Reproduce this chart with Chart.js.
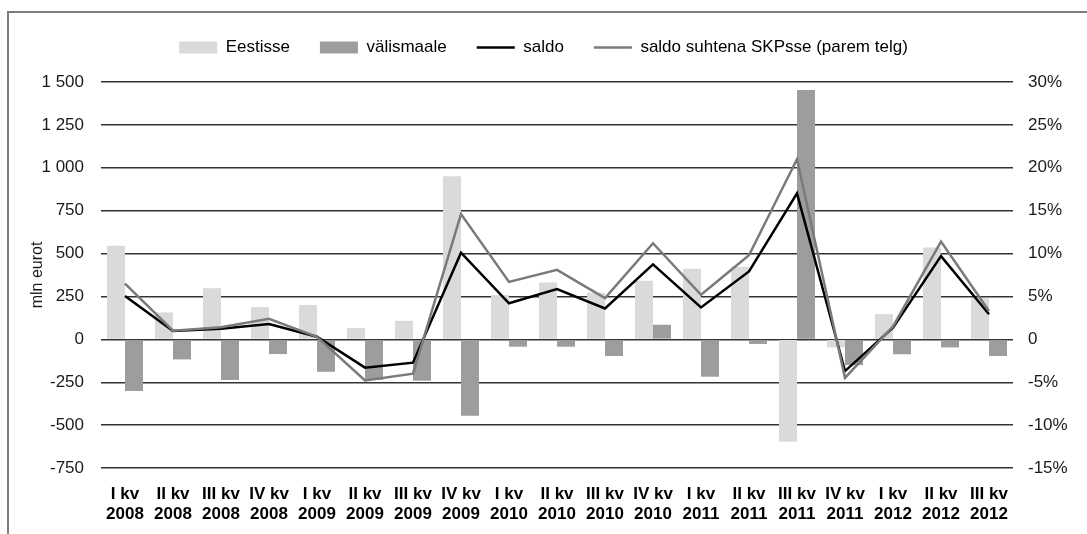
<!DOCTYPE html>
<html>
<head>
<meta charset="utf-8">
<script src="https://cdn.jsdelivr.net/npm/chart.js@4"></script>
<style>
  body { margin: 0; background: #fff; overflow: hidden; }
  #wrap { position: relative; width: 1087px; height: 534px; }
  #frame { position: absolute; left: 7px; top: 11px; width: 1200px; height: 600px;
           border-left: 2px solid #7d7d7d; border-top: 2px solid #7d7d7d; }
</style>
</head>
<body>
<div id="wrap">
  <div id="frame"></div>
  <canvas id="myChart"></canvas>
</div>
<script>
var labels = [
  ['I kv', '2008'], ['II kv', '2008'], ['III kv', '2008'], ['IV kv', '2008'],
  ['I kv', '2009'], ['II kv', '2009'], ['III kv', '2009'], ['IV kv', '2009'],
  ['I kv', '2010'], ['II kv', '2010'], ['III kv', '2010'], ['IV kv', '2010'],
  ['I kv', '2011'], ['II kv', '2011'], ['III kv', '2011'], ['IV kv', '2011'],
  ['I kv', '2012'], ['II kv', '2012'], ['III kv', '2012']
];
// mln eurot
var eestisse   = [545, 157, 298, 188, 200, 66, 108, 951, 258, 332, 272, 342, 411, 423, -597, -47, 147, 536, 239];
var valismaale = [-301, -117, -237, -86, -189, -237, -241, -445, -43, -43, -97, 85, -218, -27, 1453, -150, -87, -47, -97];
var saldo      = [252, 48, 62, 89, 15, -165, -136, 505, 210, 293, 180, 437, 186, 396, 851, -185, 68, 485, 146];
// % SKPst (parem telg)
var saldoSkp   = [6.5, 1.0, 1.4, 2.4, 0.3, -4.8, -4.0, 14.6, 6.7, 8.1, 4.8, 11.2, 5.2, 9.8, 21.0, -4.5, 1.5, 11.4, 3.3];

var chart;

function formatMln(v) {
  var s = Math.abs(v).toString();
  if (s.length > 3) s = s.slice(0, s.length - 3) + ' ' + s.slice(-3);
  return (v < 0 ? '-' : '') + s;
}

function showChart() {
  var fontFamily = '"Liberation Sans", Arial, Helvetica, sans-serif';
  Chart.defaults.font.family = fontFamily;
  Chart.defaults.color = '#1a1a1a';

  const data = {
    labels: labels,
    datasets: [
      { type: 'bar', label: 'Eestisse', data: eestisse, yAxisID: 'y',
        backgroundColor: '#d9dadb', order: 2 },
      { type: 'bar', label: 'välismaale', data: valismaale, yAxisID: 'y',
        backgroundColor: '#9d9d9f', order: 3 },
      { type: 'line', label: 'saldo', data: saldo, yAxisID: 'y',
        borderColor: '#000000', backgroundColor: '#000000', borderWidth: 2.5,
        pointRadius: 0, tension: 0, order: 1 },
      { type: 'line', label: 'saldo suhtena SKPsse (parem telg)', data: saldoSkp, yAxisID: 'y1',
        borderColor: '#7a7a7a', backgroundColor: '#7a7a7a', borderWidth: 2.5,
        pointRadius: 0, tension: 0, order: 0 }
    ]
  };

  const options = {
    responsive: true,
    maintainAspectRatio: false,
    animation: false,
    layout: { padding: { top: 9, left: 0, right: 0, bottom: 0 } },
    datasets: { bar: { categoryPercentage: 0.75, barPercentage: 1.0 } },
    plugins: {
      tooltip: { enabled: false },
      legend: {
        display: true,
        position: 'top',
        labels: {
          font: { size: 17 },
          color: '#1a1a1a',
          padding: 30,
          usePointStyle: true,
          pointStyleWidth: 38,
          boxHeight: 12,
          generateLabels: function (ch) {
            return ch.data.datasets.map(function (ds, i) {
              var isLine = ds.type === 'line';
              return {
                text: ds.label,
                datasetIndex: i,
                pointStyle: isLine ? 'line' : 'rect',
                fillStyle: isLine ? ds.borderColor : ds.backgroundColor,
                strokeStyle: isLine ? ds.borderColor : ds.backgroundColor,
                lineWidth: isLine ? 2.5 : 0,
                hidden: false
              };
            });
          }
        }
      }
    },
    scales: {
      x: {
        grid: { display: false },
        border: { display: false },
        ticks: {
          color: '#000',
          font: { size: 17, weight: 'bold' },
          maxRotation: 0,
          autoSkip: false,
          padding: 8
        },
        afterFit: function (scale) { scale.height = 66; }
      },
      y: {
        position: 'left',
        min: -750, max: 1500,
        border: { display: false },
        grid: { color: '#333333', lineWidth: 1.4, drawTicks: false },
        ticks: {
          stepSize: 250,
          padding: 17,
          font: { size: 17 },
          color: '#1a1a1a',
          callback: function (v) { return formatMln(v); }
        },
        title: {
          display: true,
          text: 'mln eurot',
          font: { size: 16 },
          color: '#1a1a1a',
          padding: { top: 28, bottom: 0 }
        },
        afterFit: function (scale) { scale.width = 101; }
      },
      y1: {
        position: 'right',
        min: -15, max: 30,
        border: { display: false },
        grid: { display: false, drawTicks: false },
        ticks: {
          stepSize: 5,
          padding: 15,
          font: { size: 17 },
          color: '#1a1a1a',
          callback: function (v) { return v === 0 ? '0' : v + '%'; }
        },
        afterFit: function (scale) { scale.width = 74; }
      }
    }
  };

  const legendHeight = {
    id: 'legendHeight',
    beforeInit: function (ch) {
      var lg = ch.legend;
      if (!lg) return;
      var fit = lg.fit;
      lg.fit = function () {
        fit.call(this);
        this.height = 82 - 9;
      };
    }
  };

  const config = { type: 'bar', data: data, options: options, plugins: [legendHeight] };
  chart = new Chart(document.getElementById('myChart'), config);
}

window.onload = showChart;
</script>
</body>
</html>
